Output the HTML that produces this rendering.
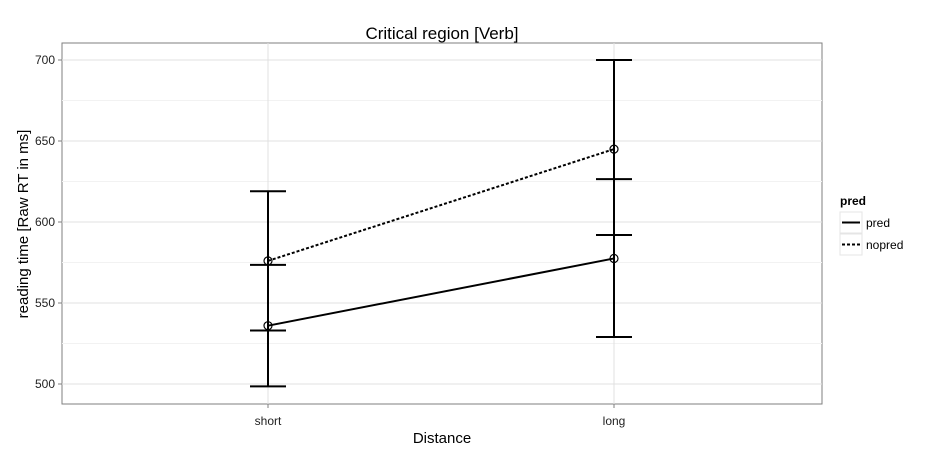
<!DOCTYPE html>
<html><head><meta charset="utf-8"><style>
body{margin:0;background:#fff;}
svg{display:block;font-family:"Liberation Sans",sans-serif;}
</style></head><body>
<svg id="chart" width="944" height="457">
<rect x="62" y="43" width="760" height="361" fill="#fff" stroke="#7f7f7f"/>
<g id="grid"></g>
<g id="axes"></g>
<g id="marks"></g>
<text x="442" y="39" font-size="17" text-anchor="middle">Critical region [Verb]</text>
<text x="442" y="443" font-size="15" text-anchor="middle">Distance</text>
<text transform="translate(28,224) rotate(-90)" font-size="15" text-anchor="middle">reading time [Raw RT in ms]</text>
<g>
<text x="840" y="205" font-size="12" font-weight="bold">pred</text>
<g>
<rect x="840" y="212" width="22" height="21" fill="#fff" stroke="#e5e5e5"/>
<line x1="842" y1="222.5" x2="860" y2="222.5" stroke="#000" stroke-width="2"/>
<text x="866" y="227" font-size="12">pred</text></g>
<g>
<rect x="840" y="234" width="22" height="21" fill="#fff" stroke="#e5e5e5"/>
<line x1="842" y1="244.5" x2="860" y2="244.5" stroke="#000" stroke-width="2" stroke-dasharray="3,2"/>
<text x="866" y="249" font-size="12">nopred</text></g>
</g>
</svg>
<script>
const categories=["short","long"];
const seriesNames=["pred","nopred"];
const predMean=[536,577.5];
const predLow=[498.5,529];
const predHigh=[573.5,626.5];
const nopredMean=[576,645];
const nopredLow=[533,592];
const nopredHigh=[619,700];
const yTicks=[500,550,600,650,700];
const NS="http://www.w3.org/2000/svg";
function y(v){return 384-(v-500)*1.62;}
function x(i){return 268+i*346;}
function mk(tag,attrs,parent){const e=document.createElementNS(NS,tag);for(const k in attrs)e.setAttribute(k,attrs[k]);document.getElementById(parent).appendChild(e);return e;}
// minor grid
for(let i=0;i<yTicks.length-1;i++){const v=(yTicks[i]+yTicks[i+1])/2;const l=mk("line",{x1:62,x2:822,y1:y(v),y2:y(v),stroke:"#f2f2f2"},"grid");

}
yTicks.forEach(v=>{const l=mk("line",{x1:62,x2:822,y1:y(v),y2:y(v),stroke:"#e0e0e0"},"grid");


mk("line",{x1:58,x2:62,y1:y(v),y2:y(v),stroke:"#7f7f7f"},"axes");
const t=mk("text",{x:55,y:y(v)+4,"font-size":12,"text-anchor":"end",fill:"#222"},"axes");t.textContent=v;

});
categories.forEach((c,i)=>{const l=mk("line",{x1:x(i),x2:x(i),y1:43,y2:404,stroke:"#e0e0e0"},"grid");


mk("line",{x1:x(i),x2:x(i),y1:404,y2:408,stroke:"#7f7f7f"},"axes");
const t=mk("text",{x:x(i),y:425,"font-size":12,"text-anchor":"middle",fill:"#222"},"axes");t.textContent=c;

});
function series(name,m,lo,hi,dash){
 const p=mk("polyline",{points:m.map((v,i)=>x(i)+","+y(v)).join(" "),fill:"none",stroke:"#000","stroke-width":2,"stroke-dasharray":dash},"marks");
 
 
 m.forEach((v,i)=>{
  const g=mk("g",{stroke:"#000","stroke-width":2},"marks");
  
  
  [[x(i),y(lo[i]),x(i),y(hi[i])],[x(i)-18,y(lo[i]),x(i)+18,y(lo[i])],[x(i)-18,y(hi[i]),x(i)+18,y(hi[i])]].forEach(a=>{const l=document.createElementNS(NS,"line");l.setAttribute("x1",a[0]);l.setAttribute("y1",a[1]);l.setAttribute("x2",a[2]);l.setAttribute("y2",a[3]);g.appendChild(l);});
  const c=mk("circle",{cx:x(i),cy:y(v),r:4,fill:"none",stroke:"#000","stroke-width":1.2},"marks");
  
  
 });
}
series("pred",predMean,predLow,predHigh,"none");
series("nopred",nopredMean,nopredLow,nopredHigh,"3,2");
</script>
</body></html>
